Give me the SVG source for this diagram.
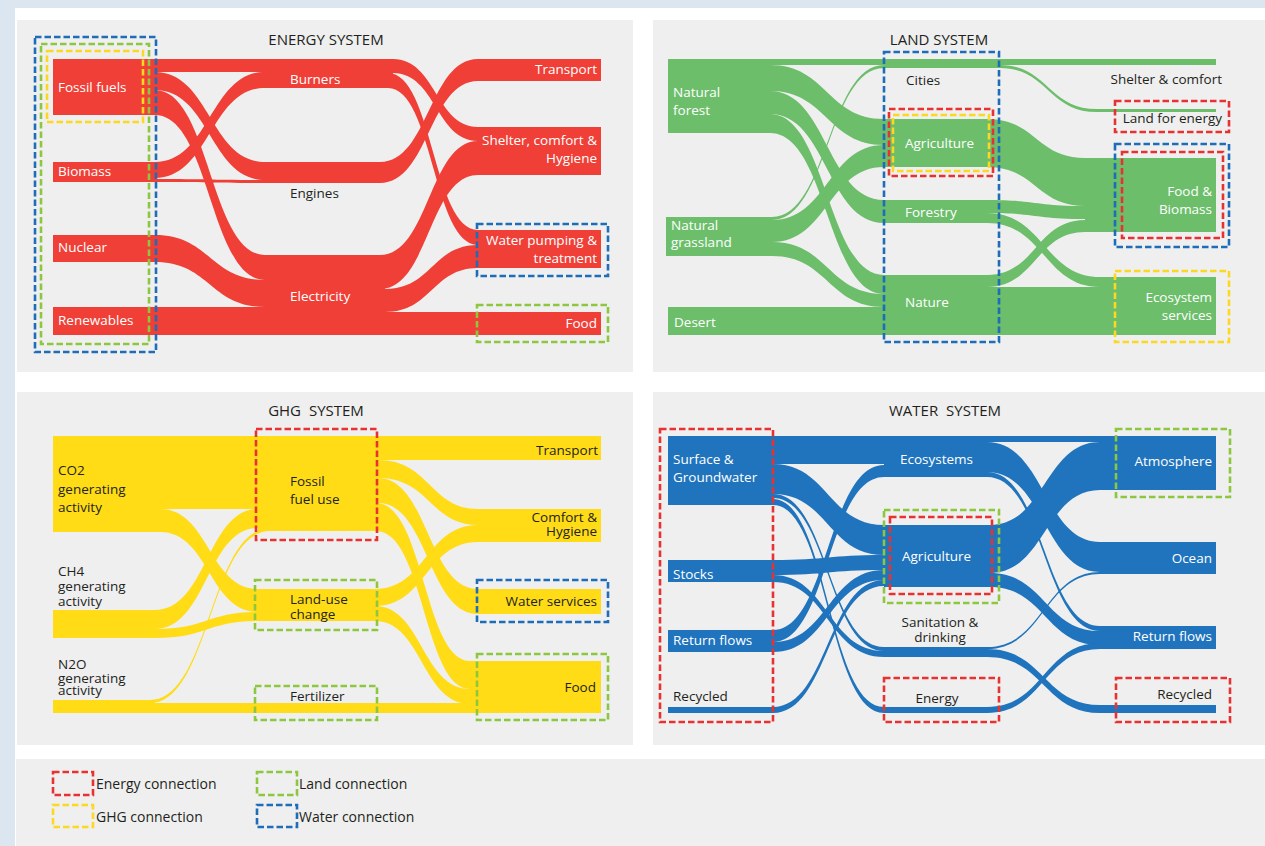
<svg xmlns="http://www.w3.org/2000/svg" width="1265" height="846" viewBox="0 0 1265 846">
<style>
text{font-family:"Open Sans","Noto Sans","Liberation Sans",sans-serif;font-size:13.5px}
.w{fill:#ffffff}
.k{fill:#231f20}
.e{text-anchor:end}
.m{text-anchor:middle}
.ttl{font-size:15px;fill:#231f20;text-anchor:middle}
.lg{font-size:14px;fill:#231f20}
.R{fill:#ef3f37}
.G{fill:#6cbe6b}
.Y{fill:#ffdc16}
.B{fill:#1f74bd}
.panel{fill:#efefef}
.dash{fill:none;stroke-width:2.6;stroke-dasharray:6.5 3}
.dr{stroke:#e83232}
.dg{stroke:#8dc63f}
.dy{stroke:#fcd820}
.db{stroke:#1d6db8}
</style>
<rect x="0" y="0" width="1265" height="846" fill="#ffffff"/>
<rect x="0" y="0" width="1265" height="8" fill="#dce6f1"/>
<rect x="0" y="0" width="15" height="846" fill="#dce6f1"/>
<rect class="panel" x="17" y="20" width="616" height="352"/>
<rect class="panel" x="653" y="20" width="612" height="352"/>
<rect class="panel" x="17" y="392" width="616" height="353"/>
<rect class="panel" x="653" y="392" width="612" height="353"/>
<rect class="panel" x="16" y="759" width="1249" height="87"/>

<!-- ENERGY SYSTEM -->
<text class="ttl" x="326" y="45">ENERGY SYSTEM</text>
<g id="energy-connectors" class="R">
<rect x="155" y="59" width="110" height="13"/>
<path d="M155 72 C210 72 210 162 265 162 L265 180 C210 180 210 90 155 90 Z"/>
<path d="M155 90 C210 90 210 255 265 255 L265 280 C210 280 210 115 155 115 Z"/>
<path d="M155 162 C210 162 210 72 265 72 L265 88 C210 88 210 178 155 178 Z"/>
<path d="M155 179 C210 179 210 180 265 180 L265 183 C210 183 210 182 155 182 Z"/>
<path d="M155 235 C210 235 210 280 265 280 L265 307 C210 307 210 262 155 262 Z"/>
<rect x="155" y="307" width="110" height="28"/>
<path d="M393 59 C436 59 436 127 478 127 L478 141 C436 141 436 73 393 73 Z"/>
<path d="M388 73 C433 73 433 230 478 230 L478 245 C433 245 433 88 388 88 Z"/>
<path d="M380 162 C429 162 429 59 478 59 L478 81 C429 81 429 183 380 183 Z"/>
<path d="M380 255 C429 255 429 141 478 141 L478 175 C429 175 429 289 380 289 Z"/>
<path d="M385 289 C432 289 432 245 478 245 L478 268 C432 268 432 312 385 312 Z"/>
<rect x="385" y="312" width="93" height="23"/>
</g>
<g id="energy-fossil-fuels"><rect class="R" x="53" y="59" width="102" height="56"/><text class="w" x="58" y="92">Fossil fuels</text></g>
<g id="energy-biomass"><rect class="R" x="53" y="162" width="102" height="20"/><text class="w" x="58" y="176">Biomass</text></g>
<g id="energy-nuclear"><rect class="R" x="53" y="235" width="102" height="27"/><text class="w" x="58" y="252">Nuclear</text></g>
<g id="energy-renewables"><rect class="R" x="53" y="307" width="102" height="28"/><text class="w" x="58" y="325">Renewables</text></g>
<g id="energy-burners"><rect class="R" x="265" y="59" width="128" height="29"/><text class="w" x="290" y="84">Burners</text></g>
<g id="energy-engines"><rect class="R" x="265" y="162" width="115" height="21"/><text class="k" x="290" y="198">Engines</text></g>
<g id="energy-electricity"><rect class="R" x="265" y="255" width="120" height="80"/><text class="w" x="290" y="301">Electricity</text></g>
<g id="energy-transport"><rect class="R" x="478" y="59" width="123" height="22"/><text class="w e" x="597" y="74">Transport</text></g>
<g id="energy-shelter"><rect class="R" x="478" y="127" width="123" height="48"/><text class="w e" x="597" y="145">Shelter, comfort &amp;</text><text class="w e" x="597" y="163">Hygiene</text></g>
<g id="energy-water-pumping"><rect class="R" x="478" y="230" width="123" height="38"/><text class="w e" x="597" y="245">Water pumping &amp;</text><text class="w e" x="597" y="263">treatment</text></g>
<g id="energy-food"><rect class="R" x="478" y="312" width="123" height="23"/><text class="w e" x="597" y="328">Food</text></g>

<!-- LAND SYSTEM -->
<text class="ttl" x="939" y="45">LAND SYSTEM</text>
<g id="land-connectors" class="G">
<rect x="770" y="59" width="446" height="6"/>
<path d="M770 65 C827 65 827 119 884 119 L884 145 C827 145 827 91 770 91 Z"/>
<path d="M770 91 C827 91 827 200 884 200 L884 223 C827 223 827 114 770 114 Z"/>
<path d="M770 114 C827 114 827 275 884 275 L884 294 C827 294 827 133 770 133 Z"/>
<path d="M772 217 C828 217 828 65 884 65 L884 68 C828 68 828 220 772 220 Z"/>
<path d="M772 220 C828 220 828 145 884 145 L884 167 C828 167 828 242 772 242 Z"/>
<path d="M772 242 C828 242 828 294 884 294 L884 307 C828 307 828 256 772 256 Z"/>
<rect x="770" y="307" width="114" height="28"/>
<path d="M987 119 C1036 119 1036 158 1085 158 L1085 206 C1036 206 1036 167 987 167 Z"/>
<path d="M987 200 C1036 200 1036 206 1085 206 L1085 219 C1036 219 1036 213 987 213 Z"/>
<path d="M987 213 C1044 213 1044 277 1100 277 L1100 287 C1044 287 1044 223 987 223 Z"/>
<path d="M987 275 C1036 275 1036 220 1085 220 L1085 232 C1036 232 1036 287 987 287 Z"/>
<rect x="987" y="287" width="113" height="48"/>
<path d="M1000 65 C1048 65 1048 109 1097 109 L1097 112 C1048 112 1048 68 1000 68 Z"/>
</g>
<g id="land-natural-forest"><rect class="G" x="668" y="59" width="102" height="74"/><text class="w" x="673" y="97">Natural</text><text class="w" x="673" y="115">forest</text></g>
<g id="land-natural-grassland"><rect class="G" x="666" y="217" width="106" height="39"/><text class="w" x="671" y="230">Natural</text><text class="w" x="671" y="247">grassland</text></g>
<g id="land-desert"><rect class="G" x="668" y="307" width="102" height="28"/><text class="w" x="674" y="327">Desert</text></g>
<g id="land-cities"><rect class="G" x="884" y="65" width="116" height="3"/><text class="k" x="906" y="85">Cities</text></g>
<g id="land-agriculture"><rect class="G" x="884" y="119" width="103" height="48"/><text class="w" x="905" y="148">Agriculture</text></g>
<g id="land-forestry"><rect class="G" x="884" y="200" width="103" height="23"/><text class="w" x="905" y="217">Forestry</text></g>
<g id="land-nature"><rect class="G" x="884" y="275" width="103" height="60"/><text class="w" x="905" y="307">Nature</text></g>
<g id="land-shelter"><text class="k e" x="1222" y="84">Shelter &amp; comfort</text></g>
<g id="land-land-for-energy"><rect class="G" x="1097" y="109" width="119" height="3"/><text class="k e" x="1222" y="123">Land for energy</text></g>
<g id="land-food-biomass"><rect class="G" x="1085" y="158" width="131" height="74"/><text class="w e" x="1212" y="196">Food &amp;</text><text class="w e" x="1212" y="214">Biomass</text></g>
<g id="land-ecosystem-services"><rect class="G" x="1100" y="277" width="116" height="58"/><text class="w e" x="1212" y="302">Ecosystem</text><text class="w e" x="1212" y="320">services</text></g>

<!-- GHG SYSTEM -->
<text class="ttl" x="316" y="416" word-spacing="4">GHG SYSTEM</text>
<g id="ghg-connectors" class="Y">
<rect x="160" y="436" width="98" height="73"/>
<path d="M160 509 C209 509 209 589 258 589 L258 612 C209 612 209 532 160 532 Z"/>
<path d="M155 610 C207 610 207 509 258 509 L258 528 C207 528 207 629 155 629 Z"/>
<path d="M155 629 C207 629 207 612 258 612 L258 621 C207 621 207 638 155 638 Z"/>
<path d="M150 700 C210 700 210 528 270 528 L270 531 C210 531 210 703 150 703 Z"/>
<rect x="155" y="703" width="315" height="10"/>
<rect x="375" y="436" width="103" height="24"/>
<path d="M378 460 C430 460 430 509 478 509 L478 525 C430 525 430 478 378 478 Z"/>
<path d="M378 478 C428 478 428 589 478 589 L478 614 C428 614 428 503 378 503 Z"/>
<path d="M376 503 C424 503 424 661 470 661 L470 689 C424 689 424 531 376 531 Z"/>
<path d="M375 589 C426 589 426 525 478 525 L478 542 C426 542 426 606 375 606 Z"/>
<path d="M375 606 C422 606 422 689 470 689 L470 704 C422 704 422 621 375 621 Z"/>
</g>
<g id="ghg-co2"><rect class="Y" x="53" y="436" width="107" height="96"/><text class="k" x="58" y="475">CO2</text><text class="k" x="58" y="494">generating</text><text class="k" x="58" y="512">activity</text></g>
<g id="ghg-ch4"><rect class="Y" x="53" y="610" width="102" height="28"/><text class="k" x="58" y="576">CH4</text><text class="k" x="58" y="591">generating</text><text class="k" x="58" y="606">activity</text></g>
<g id="ghg-n2o"><rect class="Y" x="53" y="700" width="102" height="13"/><text class="k" x="58" y="669">N2O</text><text class="k" x="58" y="683">generating</text><text class="k" x="58" y="695">activity</text></g>
<g id="ghg-fossil-fuel-use"><rect class="Y" x="258" y="436" width="120" height="95"/><text class="k" x="290" y="486">Fossil</text><text class="k" x="290" y="504">fuel use</text></g>
<g id="ghg-land-use-change"><rect class="Y" x="258" y="589" width="120" height="32"/><text class="k" x="290" y="604">Land-use</text><text class="k" x="290" y="619">change</text></g>
<g id="ghg-fertilizer"><text class="k" x="290" y="701">Fertilizer</text></g>
<g id="ghg-transport"><rect class="Y" x="478" y="436" width="123" height="24"/><text class="k e" x="598" y="455">Transport</text></g>
<g id="ghg-comfort"><rect class="Y" x="478" y="509" width="123" height="33"/><text class="k e" x="597" y="522">Comfort &amp;</text><text class="k e" x="597" y="536">Hygiene</text></g>
<g id="ghg-water-services"><rect class="Y" x="478" y="589" width="123" height="25"/><text class="k e" x="597" y="606">Water services</text></g>
<g id="ghg-food"><rect class="Y" x="470" y="661" width="131" height="52"/><text class="k e" x="596" y="692">Food</text></g>

<!-- WATER SYSTEM -->
<text class="ttl" x="945" y="416" word-spacing="4">WATER SYSTEM</text>
<g id="water-connectors" class="B">
<rect x="773" y="436" width="111" height="28"/>
<path d="M773 464 C828 464 828 525 884 525 L884 555 C828 555 828 494 773 494 Z"/>
<path d="M773 494 C828 494 828 647 884 647 L884 651 C828 651 828 498 773 498 Z"/>
<path d="M773 499 C828 499 828 707 884 707 L884 713 C828 713 828 505 773 505 Z"/>
<path d="M773 560 C828 560 828 555 884 555 L884 570 C828 570 828 575 773 575 Z"/>
<path d="M773 575 C828 575 828 651 884 651 L884 657 C828 657 828 582 773 582 Z"/>
<path d="M773 630 C828 630 828 465 884 465 L884 477 C828 477 828 642 773 642 Z"/>
<path d="M773 642 C828 642 828 570 884 570 L884 580 C828 580 828 652 773 652 Z"/>
<path d="M773 707 C828 707 828 580 884 580 L884 586 C828 586 828 713 773 713 Z"/>
<rect x="987" y="436" width="113" height="6"/>
<path d="M987 442 C1044 442 1044 542 1100 542 L1100 572 C1044 572 1044 472 987 472 Z"/>
<path d="M987 472 C1044 472 1044 626 1100 626 L1100 631 C1044 631 1044 477 987 477 Z"/>
<path d="M990 525 C1045 525 1045 442 1100 442 L1100 490 C1045 490 1045 573 990 573 Z"/>
<path d="M990 573 C1045 573 1045 631 1100 631 L1100 645 C1045 645 1045 587 990 587 Z"/>
<path d="M987 647 C1044 647 1044 572 1100 572 L1100 574 C1044 574 1044 649 987 649 Z"/>
<path d="M987 649 C1044 649 1044 705 1100 705 L1100 713 C1044 713 1044 657 987 657 Z"/>
<path d="M987 707 C1044 707 1044 643 1100 643 L1100 649 C1044 649 1044 713 987 713 Z"/>
</g>
<g id="water-surface"><rect class="B" x="668" y="436" width="105" height="69"/><text class="w" x="673" y="464">Surface &amp;</text><text class="w" x="673" y="482">Groundwater</text></g>
<g id="water-stocks"><rect class="B" x="668" y="560" width="105" height="22"/><text class="w" x="673" y="579">Stocks</text></g>
<g id="water-return-flows-in"><rect class="B" x="668" y="630" width="105" height="22"/><text class="w" x="673" y="645">Return flows</text></g>
<g id="water-recycled-in"><rect class="B" x="668" y="707" width="105" height="6"/><text class="k" x="673" y="701">Recycled</text></g>
<g id="water-ecosystems"><rect class="B" x="884" y="436" width="103" height="41"/><text class="w" x="900" y="464">Ecosystems</text></g>
<g id="water-agriculture"><rect class="B" x="884" y="525" width="106" height="62"/><text class="w" x="902" y="561">Agriculture</text></g>
<g id="water-sanitation"><rect class="B" x="884" y="647" width="103" height="10"/><text class="k m" x="940" y="627">Sanitation &amp;</text><text class="k m" x="940" y="642">drinking</text></g>
<g id="water-energy"><rect class="B" x="884" y="707" width="103" height="6"/><text class="k m" x="937" y="703">Energy</text></g>
<g id="water-atmosphere"><rect class="B" x="1100" y="436" width="116" height="54"/><text class="w e" x="1212" y="466">Atmosphere</text></g>
<g id="water-ocean"><rect class="B" x="1100" y="542" width="116" height="32"/><text class="w e" x="1212" y="563">Ocean</text></g>
<g id="water-return-flows-out"><rect class="B" x="1100" y="626" width="116" height="23"/><text class="w e" x="1212" y="641">Return flows</text></g>
<g id="water-recycled-out"><rect class="B" x="1100" y="705" width="116" height="8"/><text class="k e" x="1212" y="699">Recycled</text></g>

<!-- connection markers -->
<g id="connection-markers">
<rect class="dash db" x="35" y="37" width="121" height="315"/>
<rect class="dash dg" x="41" y="44" width="108" height="300"/>
<rect class="dash dy" x="47" y="51" width="96" height="71"/>
<rect class="dash db" x="477" y="224" width="131" height="52"/>
<rect class="dash dg" x="477" y="305" width="131" height="37"/>
<rect class="dash db" x="884" y="52" width="115" height="290"/>
<rect class="dash dr" x="889" y="109" width="104" height="67"/>
<rect class="dash dy" x="893" y="115" width="96" height="56"/>
<rect class="dash dr" x="1115" y="101" width="114" height="31"/>
<rect class="dash db" x="1115" y="144" width="114" height="103"/>
<rect class="dash dr" x="1122" y="152" width="101" height="86"/>
<rect class="dash dy" x="1115" y="271" width="114" height="71"/>
<rect class="dash dr" x="256" y="429" width="121" height="111"/>
<rect class="dash dg" x="255" y="580" width="122" height="50"/>
<rect class="dash dg" x="255" y="686" width="122" height="34"/>
<rect class="dash db" x="477" y="580" width="131" height="42"/>
<rect class="dash dg" x="477" y="654" width="131" height="66"/>
<rect class="dash dr" x="660" y="429" width="113" height="293"/>
<rect class="dash dg" x="884" y="510" width="115" height="93"/>
<rect class="dash dr" x="890" y="517" width="102" height="77"/>
<rect class="dash dr" x="884" y="678" width="115" height="44"/>
<rect class="dash dg" x="1116" y="429" width="114" height="68"/>
<rect class="dash dr" x="1116" y="678" width="114" height="44"/>
</g>

<!-- legend -->
<g id="legend">
<rect class="dash dr" x="53" y="772" width="40" height="23"/>
<text class="lg" x="96" y="789">Energy connection</text>
<rect class="dash dy" x="53" y="805" width="40" height="22"/>
<text class="lg" x="96" y="822">GHG connection</text>
<rect class="dash dg" x="257" y="772" width="40" height="23"/>
<text class="lg" x="299" y="789">Land connection</text>
<rect class="dash db" x="257" y="805" width="40" height="22"/>
<text class="lg" x="299" y="822">Water connection</text>
</g>
</svg>
